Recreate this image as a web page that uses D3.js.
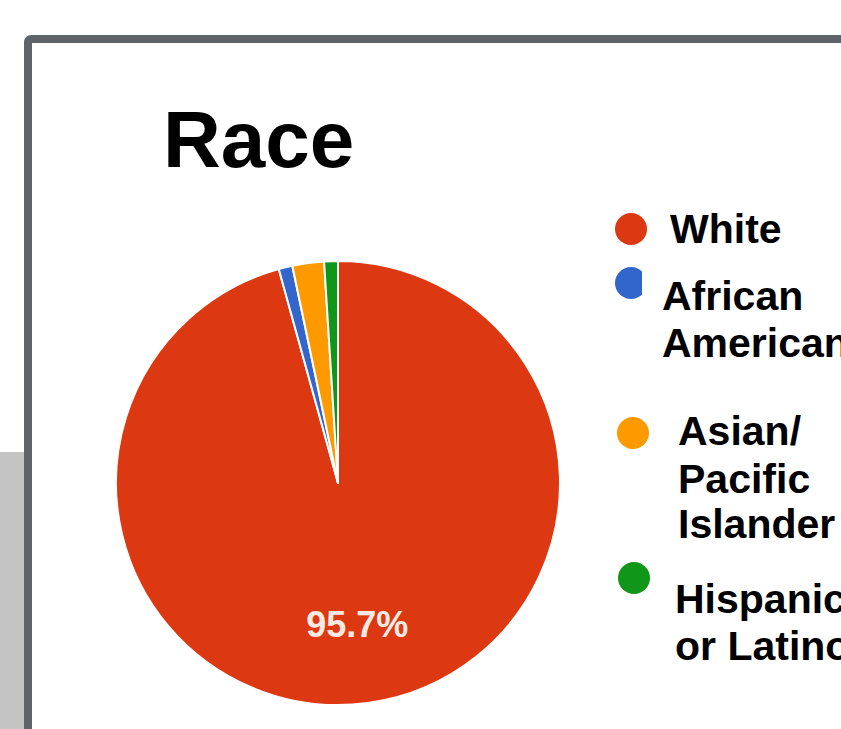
<!DOCTYPE html>
<html>
<head>
<meta charset="utf-8">
<script src="https://cdn.jsdelivr.net/npm/d3@7"></script>
<style>
  html, body { margin: 0; padding: 0; background: #ffffff; }
  svg { display: block; }
  text { font-family: "Liberation Sans", Arial, Helvetica, sans-serif; font-weight: bold; }
</style>
</head>
<body>
<svg id="chart" width="841" height="729"></svg>
<script>
// Race breakdown (percent of total)
const categories = ["White", "African American", "Asian/ Pacific Islander", "Hispanic or Latino"];
const values = [95.7, 1.0, 2.3, 1.0];
const colors = ["#dc3912", "#3366cc", "#ff9900", "#109618"];
// Legend text, one entry per category, wrapped into lines
const legendLines = [["White"], ["African", "American"], ["Asian/", "Pacific", "Islander"], ["Hispanic", "or Latino"]];
const sliceLabels = ["95.7%", "", "", ""];
const title = "Race";

// Layout
const W = 841, H = 729;
const cx = 338, cy = 483, radius = 222;
const legendDots = [[631, 229], [631, 283], [633, 433], [634, 578]];
const legendText = [
  { x: 670, y: [243] },
  { x: 662, y: [310, 357] },
  { x: 678, y: [445, 493, 538] },
  { x: 675, y: [613, 660] }
];

const svg = d3.select("#chart");

// Grey panel at the left edge
svg.append("rect").attr("x", 0).attr("y", 452).attr("width", 24).attr("height", H - 452)
  .attr("fill", "#c4c4c4");

// Frame background and border (open on the right and bottom)
svg.append("rect").attr("x", 24).attr("y", 35).attr("width", W + 20).attr("height", H)
  .attr("fill", "#ffffff");
svg.append("path")
  .attr("d", `M28,${H + 10} L28,43 Q28,39 32,39 L${W + 10},39`)
  .attr("fill", "none").attr("stroke", "#5f636a").attr("stroke-width", 8);

// Title
svg.append("text").attr("x", 163).attr("y", 167)
  .attr("font-size", 80).attr("fill", "#000").text(title);

// Pie
const pie = d3.pie().sort(null).value(d => d)(values);
const arc = d3.arc().innerRadius(0).outerRadius(radius);
const labelArc = d3.arc().innerRadius(143).outerRadius(143);

const g = svg.append("g").attr("transform", `translate(${cx},${cy})`);
g.selectAll("path.slice").data(pie).join("path")
  .attr("class", "slice")
  .attr("d", arc)
  .attr("fill", (d, i) => colors[i])
  .attr("stroke", "#ffffff")
  .attr("stroke-width", 2)
  .attr("stroke-linejoin", "round");

g.selectAll("text.pct").data(pie).join("text")
  .attr("class", "pct")
  .attr("transform", d => `translate(${labelArc.centroid(d)})`)
  .attr("text-anchor", "middle")
  .attr("dy", "0.35em")
  .attr("font-size", 36)
  .attr("fill", "#fbeae4")
  .text((d, i) => sliceLabels[i]);

// Legend
const legend = svg.append("g");
legend.selectAll("circle").data(categories).join("circle")
  .attr("cx", (d, i) => legendDots[i][0])
  .attr("cy", (d, i) => legendDots[i][1])
  .attr("r", 16)
  .attr("fill", (d, i) => colors[i]);

// Text block of the second entry sits over its dot
legend.append("rect").attr("x", 642).attr("y", 253).attr("width", 200).attr("height", 120)
  .attr("fill", "#ffffff");

categories.forEach((c, i) => {
  const t = legend.append("text").attr("font-size", 41).attr("fill", "#000");
  legendLines[i].forEach((line, j) => {
    t.append("tspan").attr("x", legendText[i].x).attr("y", legendText[i].y[j]).text(line);
  });
});
</script>
</body>
</html>
